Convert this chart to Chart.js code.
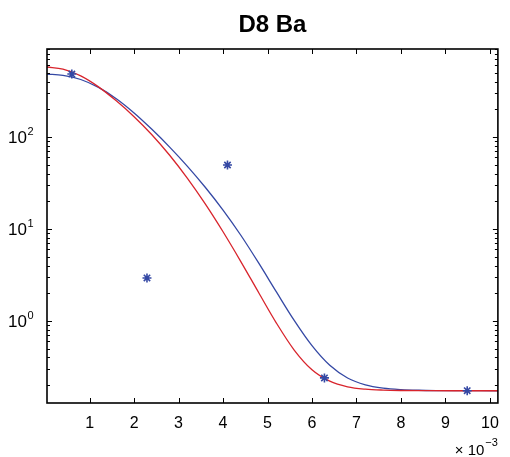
<!DOCTYPE html>
<html><head><meta charset="utf-8">
<script src="https://cdn.jsdelivr.net/npm/chart.js@4"></script>
<style>html,body{margin:0;padding:0;background:#fff;}</style>
</head><body>
<canvas id="c" width="510" height="457" style="display:block;width:510px;height:457px"></canvas>
<script>
const titleText = 'D8 Ba';
// measured points (x in units of 10^-3)
const measX = [0.60, 2.29, 4.10, 6.28, 9.49];
const measY = [484, 2.93, 49.6, 0.24, 0.174];
// red fit curve
const redX = [0.04, 0.4, 0.8, 1.2, 1.6, 2.0, 2.4, 2.8, 3.2, 3.6, 4.0, 4.4, 4.8, 5.2, 5.6, 6.0, 6.4, 6.8, 7.2, 7.6, 8.0, 8.6, 9.4, 10.18];
const redY = [577.5, 546.2, 462.2, 351.2, 247.4, 166.4, 105.9, 63.3, 35.5, 18.73, 9.32, 4.42, 2.035, 0.947, 0.482, 0.294, 0.221, 0.192, 0.181, 0.1768, 0.1751, 0.1743, 0.1740, 0.174];
// blue fit curve
const blueX = [0.04, 0.4, 0.8, 1.2, 1.6, 2.0, 2.4, 2.8, 3.2, 3.6, 4.0, 4.4, 4.8, 5.2, 5.6, 6.0, 6.4, 6.8, 7.2, 7.6, 8.0, 8.4, 8.8, 9.4, 10.18];
const blueY = [484.0, 468.5, 422.1, 346.0, 260.6, 182.6, 121.2, 77.7, 48.0, 28.4, 16.03, 8.54, 4.27, 2.067, 1.013, 0.538, 0.329, 0.2396, 0.2018, 0.1858, 0.1790, 0.1761, 0.1749, 0.1743, 0.174];
// axes
const xTicks = [1, 2, 3, 4, 5, 6, 7, 8, 9, 10];
const xTickLabels = ['1', '2', '3', '4', '5', '6', '7', '8', '9', '10'];
const yMajorTicks = [1, 10, 100];
const yTickBase = '10';
const yTickExponents = ['0', '1', '2'];
const yMinorTicks = [0.2, 0.3, 0.4, 0.5, 0.6, 0.7, 0.8, 0.9, 2, 3, 4, 5, 6, 7, 8, 9, 20, 30, 40, 50, 60, 70, 80, 90, 200, 300, 400, 500, 600, 700, 800, 900];
const xMultBase = '× 10';
const xMultExp = '−3';
const xMin = 0.042, xMax = 10.18, yMin = 0.128, yMax = 906;

const RED = 'rgb(216,36,44)';
const BLUE = 'rgb(52,72,164)';
const FONT = '"Liberation Sans", Arial, Helvetica, sans-serif';

const toXY = (xs, ys) => xs.map((v, i) => ({x: v, y: ys[i]}));

const framePlugin = {
  id: 'frame',
  afterDraw(chart) {
    const {ctx, chartArea: a, scales: {x, y}} = chart;
    ctx.save();
    ctx.strokeStyle = '#000';
    ctx.lineWidth = 1;
    const line = (x1, y1, x2, y2) => { ctx.beginPath(); ctx.moveTo(x1, y1); ctx.lineTo(x2, y2); ctx.stroke(); };
    xTicks.forEach(v => {
      const px = Math.round(x.getPixelForValue(v)) + 0.5;
      line(px, a.bottom, px, a.bottom - 5);
      line(px, a.top, px, a.top + 5);
    });
    yMajorTicks.forEach(v => {
      const py = Math.round(y.getPixelForValue(v)) + 0.5;
      line(a.left, py, a.left + 5, py);
      line(a.right, py, a.right - 5, py);
    });
    yMinorTicks.forEach(v => {
      if (v < yMin || v > yMax) return;
      const py = Math.round(y.getPixelForValue(v)) + 0.5;
      line(a.left, py, a.left + 3, py);
      line(a.right, py, a.right - 3, py);
    });
    ctx.lineWidth = 1.6;
    ctx.strokeRect(a.left, a.top, a.right - a.left, a.bottom - a.top);
    // y labels
    ctx.fillStyle = '#000';
    ctx.textBaseline = 'alphabetic';
    ctx.textAlign = 'left';
    yMajorTicks.forEach((v, i) => {
      const py = y.getPixelForValue(v);
      ctx.font = '17px ' + FONT;
      const w = ctx.measureText(yTickBase).width;
      const x0 = 8;
      ctx.fillText(yTickBase, x0, py + 6);
      ctx.font = '11px ' + FONT;
      ctx.fillText(yTickExponents[i], x0 + w + 0.5, py - 2);
    });
    // x multiplier
    ctx.font = '15px ' + FONT;
    const wb = ctx.measureText(xMultBase).width;
    ctx.font = '11px ' + FONT;
    const we = ctx.measureText(xMultExp).width;
    const xr = a.right;
    ctx.font = '15px ' + FONT;
    ctx.fillText(xMultBase, xr - we - wb - 1, 455);
    ctx.font = '11px ' + FONT;
    ctx.fillText(xMultExp, xr - we, 446);
    ctx.restore();
  }
};

new Chart(document.getElementById('c'), {
  type: 'line',
  data: {
    datasets: [
      {type: 'scatter', data: toXY(measX, measY), showLine: false, pointStyle: 'star', pointRadius: 4.5,
       pointBorderWidth: 1.6, borderColor: BLUE, backgroundColor: BLUE, pointBorderColor: BLUE},
      {data: toXY(redX, redY), borderColor: RED, borderWidth: 1.3, pointRadius: 0, cubicInterpolationMode: 'monotone', fill: false},
      {data: toXY(blueX, blueY), borderColor: BLUE, borderWidth: 1.3, pointRadius: 0, cubicInterpolationMode: 'monotone', fill: false}
    ]
  },
  options: {
    responsive: false,
    animation: false,
    devicePixelRatio: 1,
    layout: {padding: {left: 0, right: 8, top: 0, bottom: 0}},
    plugins: {
      legend: {display: false},
      tooltip: {enabled: false},
      title: {display: true, text: titleText, fullSize: false, color: '#000',
              font: {family: FONT, size: 24, weight: 'bold'}, padding: {top: 11, bottom: 9.2}}
    },
    scales: {
      x: {
        type: 'linear', min: xMin, max: xMax,
        grid: {display: false, drawTicks: false},
        border: {display: false},
        afterBuildTicks: s => { s.ticks = xTicks.map(v => ({value: v})); },
        afterFit: s => { s.height = 54; },
        ticks: {color: '#000', font: {family: FONT, size: 16}, padding: 11, maxRotation: 0, autoSkip: false,
                callback: (v) => { const i = xTicks.indexOf(v); return i >= 0 ? xTickLabels[i] : ''; }}
      },
      y: {
        type: 'logarithmic', min: yMin, max: yMax,
        grid: {display: false, drawTicks: false},
        border: {display: false},
        ticks: {display: false},
        afterFit: s => { s.width = 47; }
      }
    }
  },
  plugins: [framePlugin]
});
</script>
</body></html>
